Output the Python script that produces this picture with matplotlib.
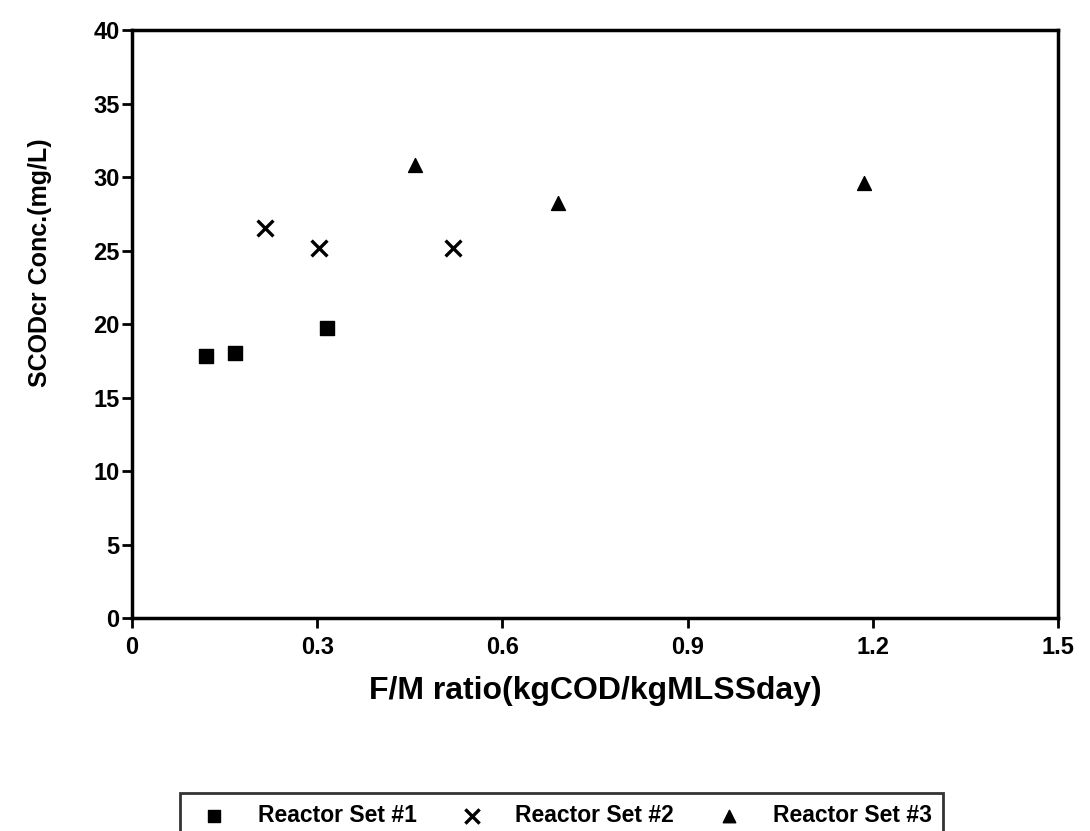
import numpy as np
import matplotlib.pyplot as plt

# DATA ------------------------------------------------------
set1_fm = [0.12, 0.167, 0.316]
set1_scod = [17.8, 18.0, 19.7]

set2_fm = [0.216, 0.303, 0.52]
set2_scod = [26.5, 25.2, 25.2]

set3_fm = [0.459, 0.69, 1.186]
set3_scod = [30.8, 28.2, 29.6]

x_ticks = [0, 0.3, 0.6, 0.9, 1.2, 1.5]
x_labels = ["0", "0.3", "0.6", "0.9", "1.2", "1.5"]
y_ticks = [0, 5, 10, 15, 20, 25, 30, 35, 40]

# PLOT ------------------------------------------------------
plt.rcParams['font.family'] = ['Liberation Sans', 'DejaVu Sans']

fig = plt.figure(figsize=(10.9, 8.31), dpi=100)
ax = fig.add_axes([0.1211, 0.2563, 0.8495, 0.7076])

s1 = ax.scatter(set1_fm, set1_scod, marker='s', s=100, color='black', label='Reactor Set #1')
s2 = ax.scatter(set2_fm, set2_scod, marker='x', s=130, color='black', linewidths=2.4, label='Reactor Set #2')
s3 = ax.scatter(set3_fm, set3_scod, marker='^', s=100, color='black', label='Reactor Set #3')

ax.set_xlim(0, 1.5)
ax.set_ylim(0, 40)
ax.set_xticks(x_ticks)
ax.set_xticklabels(x_labels, fontsize=17, fontweight='bold')
ax.set_yticks(y_ticks)
ax.set_yticklabels([str(v) for v in y_ticks], fontsize=17, fontweight='bold')
ax.tick_params(axis='both', direction='out', length=7, width=2)
ax.tick_params(axis='x', pad=6)
ax.tick_params(axis='y', pad=2)

for sp in ax.spines.values():
    sp.set_linewidth(2.5)

ax.set_xlabel("F/M ratio(kgCOD/kgMLSSday)", fontsize=23, fontweight='bold')
ax.xaxis.set_label_coords(0.5, -0.0986)
ax.set_ylabel("SCODcr Conc.(mg/L)", fontsize=18, fontweight='bold')
ax.yaxis.set_label_coords(-0.0864, 0.605)

leg = fig.legend(handles=[s1, s2, s3], loc='upper left',
                 bbox_to_anchor=(180 / 1090, 1 - 793 / 831, (943 - 180) / 1090, 0.0),
                 mode='expand', ncol=3, frameon=True, fancybox=False, edgecolor='black',
                 prop={'size': 16.5, 'weight': 'bold'},
                 handletextpad=0.9, borderpad=0.5, borderaxespad=0, markerscale=0.9)
leg.get_frame().set_linewidth(2)

fig.savefig("out.png", dpi=100)
